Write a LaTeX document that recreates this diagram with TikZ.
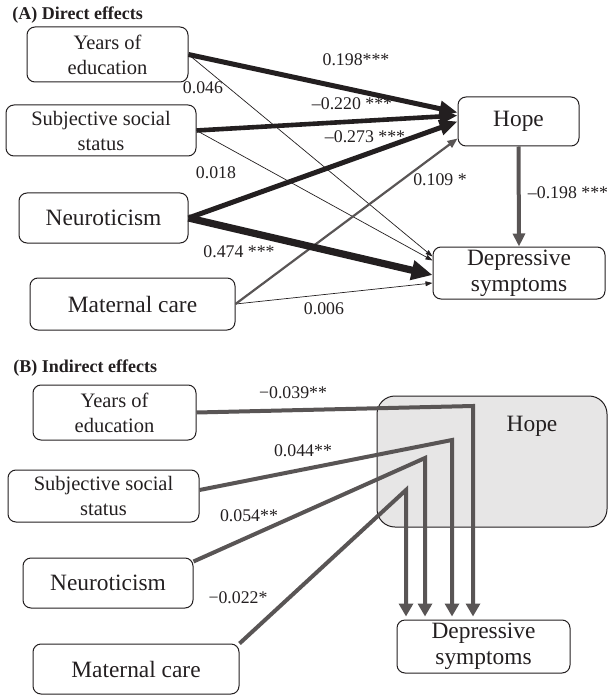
\documentclass[tikz,border=0pt]{standalone}
\usepackage{fontspec}
\setmainfont{Liberation Serif}
\usetikzlibrary{arrows.meta}
\definecolor{ink}{RGB}{35,31,32}
\definecolor{mid}{RGB}{89,85,85}
\definecolor{hopefill}{RGB}{231,230,230}

\begin{document}
\begin{tikzpicture}[
  x=0.5pt, y=-0.5pt,
  box/.style={draw=ink,line width=0.5pt,rounded corners=4pt,align=center,inner sep=0pt,text=ink},
  small/.style={font=\fontsize{10.25}{12.5}\selectfont},
  big/.style={font=\fontsize{11.7}{13}\selectfont},
  coef/.style={font=\fontsize{8.9}{10}\selectfont,text=ink,inner sep=0pt},
  paneltitle/.style={font=\fontsize{9}{10}\selectfont\bfseries,anchor=west,inner sep=0pt,text=ink},
  thinarrow/.style={draw=ink,line width=0.35pt,-{Triangle[length=3.5pt,width=2.4pt]}},
  ind/.style={draw=mid,line width=2pt,line join=miter,-{Triangle[length=6.5pt,width=7pt]}}
]
\useasboundingbox (0,0) rectangle (609,695);

\begin{scope}
  \node[paneltitle] (tA) at (12,15) {(A) Direct effects};
  \node[box,small,minimum width=80.5pt,minimum height=27.5pt] (YA) at (107.5,54.5) {Years of\\education};
  \node[box,small,minimum width=95pt,minimum height=25.5pt] (SA) at (101,130.5) {Subjective social\\status};
  \node[box,big,minimum width=84.5pt,minimum height=25pt] (NA) at (103.5,218) {Neuroticism};
  \node[box,big,minimum width=102.5pt,minimum height=26pt] (MA) at (132.5,304) {Maternal care};
  \node[box,big,minimum width=60.5pt,minimum height=24.5pt] (HA) at (518.5,121.5) {Hope};
  \node[box,big,minimum width=86pt,minimum height=26pt] (DA) at (519,273) {Depressive\\symptoms};
  \draw[thinarrow] (YA.east) -- ([yshift=-5pt]DA.north west);
  \draw[thinarrow] (SA.east) -- ([yshift=-7pt]DA.north west);
  \draw[thinarrow] (MA.east) -- ([yshift=-5pt]DA.west);
  \draw[draw=mid,line width=1.1pt,-{Triangle[length=5pt,width=4pt]}] (MA.east) -- ([yshift=4pt]HA.south west);
  \draw[draw=ink,line width=2.5pt,-{Triangle[length=9pt,width=7.5pt]}] (YA.east) -- ([yshift=4.5pt]HA.west);
  \draw[draw=ink,line width=2.3pt,-{Triangle[length=9pt,width=7.5pt]}] (SA.east) -- ([yshift=3pt]HA.west);
  \draw[draw=ink,line width=2.5pt,-{Triangle[length=9pt,width=7.5pt]}] (NA.east) -- (HA.west);
  \draw[draw=ink,line width=3.6pt,-{Triangle[length=10.5pt,width=9.5pt]}] (NA.east) -- ([yshift=-1pt]DA.west);
  \draw[draw=mid,line width=2pt,-{Triangle[length=6.5pt,width=6pt]}] (HA.south) -- (DA.north);
  \node[coef] (cYH) at (356,60) {0.198***};
  \node[coef] (cSH) at (352,104) {–0.220 ***};
  \node[coef] (cNH) at (365,137) {–0.273 ***};
  \node[coef] (cMH) at (440,180) {0.109 *};
  \node[coef] (cHD) at (568,193) {–0.198 ***};
  \node[coef] (cYD) at (203,88) {0.046};
  \node[coef] (cSD) at (216,173) {0.018};
  \node[coef] (cND) at (239,252) {0.474 ***};
  \node[coef] (cMD) at (324,309) {0.006};
\end{scope}

\begin{scope}
  \node[paneltitle] (tB) at (13,368) {(B) Indirect effects};
  \node[box,draw=ink,fill=hopefill,minimum width=115pt,minimum height=65.5pt,rounded corners=9pt] (HB) at (492,461.5) {};
  \node[big,text=ink,inner sep=0pt] (hopeB) at (532,426) {Hope};
  \node[box,small,minimum width=81.5pt,minimum height=27.5pt] (YB) at (114.5,412.5) {Years of\\education};
  \node[box,small,minimum width=95.5pt,minimum height=26pt] (SB) at (103.5,496) {Subjective social\\status};
  \node[box,big,minimum width=85pt,minimum height=25pt] (NB) at (108,583) {Neuroticism};
  \node[box,big,minimum width=103pt,minimum height=25pt] (MB) at (136,669) {Maternal care};
  \node[box,big,minimum width=86.5pt,minimum height=26.5pt] (DB) at (483.5,646.5) {Depressive\\symptoms};
  \coordinate (ky) at (473,406);
  \coordinate (ks) at (452,440);
  \coordinate (kn) at (425,458);
  \coordinate (km) at (406,490);
  \draw[ind] (YB.east) -- (ky) -- ([yshift=1.5pt]ky |- DB.north);
  \draw[ind] ([yshift=3pt]SB.east) -- (ks) -- ([yshift=1.5pt]ks |- DB.north);
  \draw[ind] ([yshift=-2pt]NB.north east) -- (kn) -- ([yshift=1.5pt]kn |- DB.north);
  \draw[ind] (MB.north east) -- (km) -- ([yshift=1.5pt]km |- DB.north);
  \node[coef] (cY) at (293,393) {−0.039**};
  \node[coef] (cS) at (303,451) {0.044**};
  \node[coef] (cN) at (249,516) {0.054**};
  \node[coef] (cM) at (238,598) {−0.022*};
\end{scope}
\end{tikzpicture}
\end{document}
